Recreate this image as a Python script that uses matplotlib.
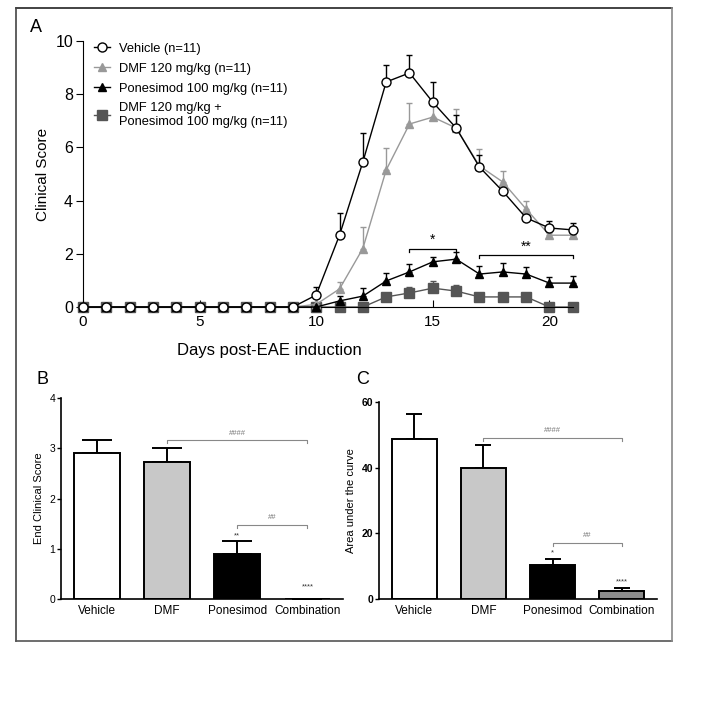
import numpy as np
import matplotlib
matplotlib.use("Agg")
import matplotlib.pyplot as plt
from matplotlib.lines import Line2D

plt.rcParams['font.family'] = ['Liberation Sans', 'DejaVu Sans']

# ---- Panel A data (mean clinical score, upper SEM) ----
days = [0, 1, 2, 3, 4, 5, 6, 7, 8, 9, 10, 11, 12, 13, 14, 15, 16, 17, 18, 19, 20, 21]
vehicle = [0, 0, 0, 0, 0, 0, 0, 0, 0, 0, 0.45, 2.7, 5.45, 8.46, 8.8, 7.7, 6.73, 5.26, 4.35, 3.35, 2.97, 2.9]
vehicle_err = [0, 0, 0, 0, 0, 0, 0, 0, 0, 0, 0.3, 0.85, 1.1, 0.64, 0.67, 0.76, 0.5, 0.45, 0.1, 0.1, 0.25, 0.25]
dmf = [0, 0, 0, 0, 0, 0, 0, 0, 0, 0, 0.1, 0.68, 2.2, 5.15, 6.88, 7.14, 6.73, 5.3, 4.7, 3.68, 2.7, 2.7]
dmf_err = [0, 0, 0, 0, 0, 0, 0, 0, 0, 0, 0.25, 0.26, 0.8, 0.83, 0.8, 0.4, 0.7, 0.65, 0.4, 0.3, 0.1, 0.1]
pon = [0, 0, 0, 0, 0, 0, 0, 0, 0, 0, 0.0, 0.23, 0.41, 0.98, 1.32, 1.7, 1.8, 1.24, 1.32, 1.24, 0.9, 0.9]
pon_err = [0, 0, 0, 0, 0, 0, 0, 0, 0, 0, 0.0, 0.18, 0.3, 0.3, 0.28, 0.18, 0.27, 0.3, 0.33, 0.26, 0.23, 0.25]
combo = [0, 0, 0, 0, 0, 0, 0, 0, 0, 0, 0, 0, 0, 0.38, 0.53, 0.71, 0.6, 0.38, 0.38, 0.38, 0, 0]
combo_err = [0, 0, 0, 0, 0, 0, 0, 0, 0, 0, 0, 0, 0, 0.05, 0.22, 0.27, 0.23, 0.05, 0.05, 0.05, 0, 0]

labels_a = ["Vehicle (n=11)", "DMF 120 mg/kg (n=11)", "Ponesimod 100 mg/kg (n=11)",
            "DMF 120 mg/kg +\nPonesimod 100 mg/kg (n=11)"]

# ---- Panels B / C data ----
groups = ["Vehicle", "DMF", "Ponesimod", "Combination"]
end_score = [2.9, 2.72, 0.9, 0.0]
end_score_err = [0.26, 0.28, 0.25, 0.0]
auc = [48.8, 39.9, 10.4, 2.4]
auc_err = [7.6, 7.0, 1.8, 1.0]

bar_colors = ["white", "#c8c8c8", "black", "#8c8c8c"]

fig = plt.figure(figsize=(7.02, 7.01), dpi=100)

# outer frame
fr = dict(transform=fig.transFigure, lw=1.2)
fig.add_artist(Line2D([0.0228, 0.957], [0.9886, 0.9886], color="#222222", **fr))
fig.add_artist(Line2D([0.0228, 0.0228], [0.0856, 0.9886], color="#444444", **fr))
fig.add_artist(Line2D([0.0228, 0.957], [0.0856, 0.0856], color="#555555", **fr))
fig.add_artist(Line2D([0.957, 0.957], [0.0856, 0.9886], color="#888888", **fr))

# ================= Panel A =================
ax = fig.add_axes([0.118, 0.562, 0.698, 0.3795])
series = [
    (vehicle, vehicle_err, dict(color="black", marker="o", mfc="white", mec="black", ms=6.5, mew=1.0), "black", 5),
    (dmf, dmf_err, dict(color="#999999", marker="^", mfc="#999999", mec="#999999", ms=6), "#999999", 3),
    (pon, pon_err, dict(color="black", marker="^", mfc="black", mec="black", ms=6), "black", 4),
    (combo, combo_err, dict(color="#555555", marker="s", mfc="#555555", mec="#555555", ms=6.5), "#555555", 2),
]
handles = []
for (y, e, st, ec, z) in series:
    ax.errorbar(days, y, yerr=[np.zeros(len(e)), e], fmt="none", ecolor=ec,
                elinewidth=1.0, capsize=2.5, capthick=1.0, zorder=z, clip_on=False)
    h, = ax.plot(days, y, lw=1.0, zorder=z + 0.5, clip_on=False, **st)
    handles.append(h)

ax.set_xlim(0, 21)
ax.set_ylim(0, 10)
ax.set_xticks([0, 5, 10, 15, 20])
ax.set_yticks([0, 2, 4, 6, 8, 10])
ax.spines["top"].set_visible(False)
ax.spines["right"].set_visible(False)
ax.tick_params(axis="x", direction="in", length=5, labelsize=11, pad=6)
ax.tick_params(axis="y", direction="out", length=5, labelsize=11.5, pad=2)
ax.set_ylabel("Clinical Score", fontsize=11, labelpad=4)
ax.set_xlabel("Days post-EAE induction", fontsize=12, labelpad=14)
ax.xaxis.set_label_coords(0.38, -0.135)

# significance brackets
def bracket(ax, x0, x1, y, txt, color="black", tick=0.12, fs=10, lw=0.9, dy=0.05):
    ax.plot([x0, x0, x1, x1], [y - tick, y, y, y - tick], color=color, lw=lw, clip_on=False)
    ax.text((x0 + x1) / 2, y + dy, txt, ha="center", va="bottom", fontsize=fs, color=color)

bracket(ax, 14, 16, 2.2, "*")
bracket(ax, 17, 21, 1.95, "**")

leg = ax.legend(handles, labels_a, loc="upper left", bbox_to_anchor=(0.006, 1.022),
                frameon=False, fontsize=9.3, handlelength=1.3, handletextpad=0.7,
                labelspacing=0.6, borderaxespad=0.2)

fig.text(0.043, 0.955, "A", fontsize=13)

# ================= Panels B and C =================
def bar_panel(rect, vals, errs, ylim, yticks, ylabel, capsize, bold, notes):
    bx = fig.add_axes(rect)
    x = np.arange(len(groups))
    bx.bar(x, vals, width=0.65, color=bar_colors, edgecolor="black", linewidth=1.4, zorder=2)
    bx.errorbar(x, vals, yerr=[np.zeros(len(errs)), errs], fmt="none", ecolor="black",
                elinewidth=1.4, capsize=capsize, capthick=1.4, zorder=1)
    bx.set_xlim(-0.51, 3.51)
    bx.set_ylim(*ylim)
    bx.set_yticks(yticks)
    bx.set_xticks(x)
    bx.set_xticklabels(groups, fontsize=8.5)
    bx.spines["top"].set_visible(False)
    bx.spines["right"].set_visible(False)
    bx.spines["left"].set_linewidth(1.2)
    bx.spines["bottom"].set_linewidth(1.2)
    bx.tick_params(axis="x", length=0, pad=4)
    bx.tick_params(axis="y", direction="out", length=3, width=1.0, labelsize=7.5, pad=1)
    if bold:
        for t in bx.get_yticklabels():
            t.set_fontweight("bold")
    bx.set_ylabel(ylabel, fontsize=8)
    for (kind, args) in notes:
        if kind == "br":
            x0, x1, y, txt, tk = args
            bx.plot([x0, x0, x1, x1], [y - tk, y, y, y - tk], color="#888888", lw=0.8)
            bx.text((x0 + x1) / 2, y + tk * 1.5, txt, ha="center", va="bottom", fontsize=5.5, color="#777777")
        else:
            xx, y, txt = args
            bx.text(xx, y, txt, ha="center", va="bottom", fontsize=5.5, color="#333333")
    return bx

bar_panel([0.087, 0.1455, 0.402, 0.2865], end_score, end_score_err, (0, 4), [0, 1, 2, 3, 4],
          "End Clinical Score", 11, False,
          [("br", (1, 3, 3.16, "####", 0.05)), ("br", (2, 3, 1.47, "##", 0.05)),
           ("tx", (2, 1.18, "**")), ("tx", (3, 0.18, "****"))])
fig.text(0.052, 0.452, "B", fontsize=13)

bar_panel([0.54, 0.1455, 0.396, 0.281], auc, auc_err, (0, 60), [0, 20, 40, 60],
          "Area under the curve", 6, True,
          [("br", (1, 3, 49, "####", 0.8)), ("br", (2, 3, 17, "##", 0.8)),
           ("tx", (2, 13.0, "*")), ("tx", (3, 4.0, "****"))])
fig.text(0.508, 0.452, "C", fontsize=13)

fig.savefig("out.png", dpi=100)
